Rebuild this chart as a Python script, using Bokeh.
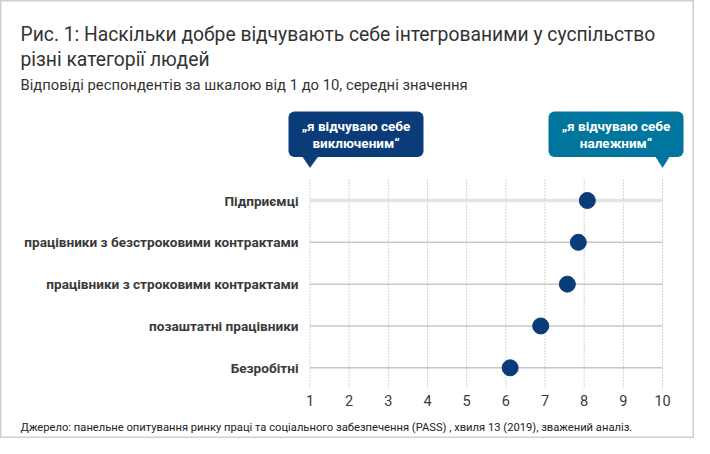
from bokeh.plotting import figure
from bokeh.models import Label, BoxAnnotation, Range1d
from bokeh.core.properties import value
from bokeh.embed import file_html
from bokeh.resources import INLINE

# ---------------- data ----------------
categories = [
    "Безробітні",
    "позаштатні працівники",
    "працівники з строковими контрактами",
    "працівники з безстроковими контрактами",
    "Підприємці",
]
values = [6.11, 6.89, 7.57, 7.85, 8.08]
ticks = [1, 2, 3, 4, 5, 6, 7, 8, 9, 10]
tick_labels = ["1", "2", "3", "4", "5", "6", "7", "8", "9", "10"]
left_callout = ["„я відчуваю себе", "виключеним“"]
right_callout = ["„я відчуваю себе", "належним“"]
title_lines = [
    "Рис. 1: Наскільки добре відчувають себе інтегрованими у суспільство",
    "різні категорії людей",
]
subtitle = "Відповіді респондентів за шкалою від 1 до 10, середні значення"
source_note = ("Джерело: панельне опитування  ринку праці та соціального забезпечення (PASS) , "
               "хвиля 13 (2019), зважений аналіз.")

# ---------------- layout helpers ----------------
W, H = 694, 438
FONT = "Roboto"
PX = 39.17          # pixels per x unit
PY = 41.83          # pixels per row
X0 = min(ticks) - 309.5 / PX
X1 = X0 + W / PX
Y1 = (len(categories) - 1) + 200 / PY
Y0 = Y1 - H / PY

def cy(py):
    return Y1 - py / PY

def dx(px):
    return px / PX

rows = list(range(len(categories)))
DARK = "#0b3c7a"
TEAL = "#00759d"

p = figure(width=W, height=H, x_range=Range1d(X0, X1), y_range=Range1d(Y0, Y1),
           x_axis_type=None, y_axis_type=None, toolbar_location=None,
           output_backend="svg", min_border=0)
p.outline_line_color = "#cfcfcf"
p.outline_line_width = 2
p.background_fill_color = "white"
p.border_fill_color = "white"

# vertical dotted gridlines
p.segment(x0=ticks, x1=ticks, y0=[cy(387)] * len(ticks), y1=[cy(178)] * len(ticks),
          line_color="#a8a8a8", line_width=1, line_dash="1 2")

# horizontal row lines
row_colors = ["#c8c8c8"] * (len(rows) - 1) + ["#e3e3e3"]
row_widths = [1.5] * (len(rows) - 1) + [3.5]
p.segment(x0=[min(ticks)] * len(rows), x1=[max(ticks)] * len(rows), y0=rows, y1=rows,
          line_color=row_colors, line_width=row_widths)

# dots
p.scatter(x=values, y=rows, size=16, fill_color=DARK, line_color=DARK)

# category labels
p.text(x=[min(ticks) - dx(11.5)] * len(rows), y=rows, text=categories,
       text_align="right", text_baseline="middle", text_font=value(FONT),
       text_font_style="bold", text_font_size="13.6px", text_color="#3a3a3a")

# tick labels
p.text(x=ticks, y=[cy(400)] * len(ticks), text=tick_labels, text_align="center",
       text_baseline="middle", text_font=value(FONT), text_font_size="14.5px",
       text_color="#3a3a3a")

# callouts
def callout(anchor, lines, color, left_off, right_off, base_l, base_r):
    left = anchor + dx(left_off)
    right = anchor + dx(right_off)
    box = BoxAnnotation(left=left, right=right, top=cy(111), bottom=cy(156.5),
                        fill_color=color, fill_alpha=1, line_color=None,
                        border_radius=6, level="underlay")
    p.add_layout(box)
    p.patch(x=[anchor + dx(base_l), anchor + dx(base_r), anchor],
            y=[cy(156), cy(156), cy(167)], fill_color=color, line_color=color,
            line_width=0.5)
    mid = (left + right) / 2
    p.text(x=[mid] * len(lines), y=[cy(125.5), cy(142.5)], text=lines,
           text_align="center", text_baseline="middle", text_font=value(FONT),
           text_font_style="bold", text_font_size="13.5px", text_color="white")

callout(min(ticks), left_callout, DARK, -21.5, 113.5, -7.5, 8)
callout(max(ticks), right_callout, TEAL, -114, 21, -7, 7)

# titles and source
p.add_layout(Label(x=20, y=H - 34, x_units="screen", y_units="screen", text=title_lines[0],
                   text_font=FONT, text_font_size="19.3px", text_color="#333333",
                   text_baseline="alphabetic"))
p.add_layout(Label(x=20, y=H - 59, x_units="screen", y_units="screen", text=title_lines[1],
                   text_font=FONT, text_font_size="19.3px", text_color="#333333",
                   text_baseline="alphabetic"))
p.add_layout(Label(x=20, y=H - 84, x_units="screen", y_units="screen", text=subtitle,
                   text_font=FONT, text_font_size="14.8px", text_color="#333333",
                   text_baseline="alphabetic"))
p.add_layout(Label(x=20, y=H - 427, x_units="screen", y_units="screen", text=source_note,
                   text_font=FONT, text_font_size="11.2px", text_color="#222222",
                   text_baseline="alphabetic"))

open("out.html", "w").write(file_html(p, INLINE))
